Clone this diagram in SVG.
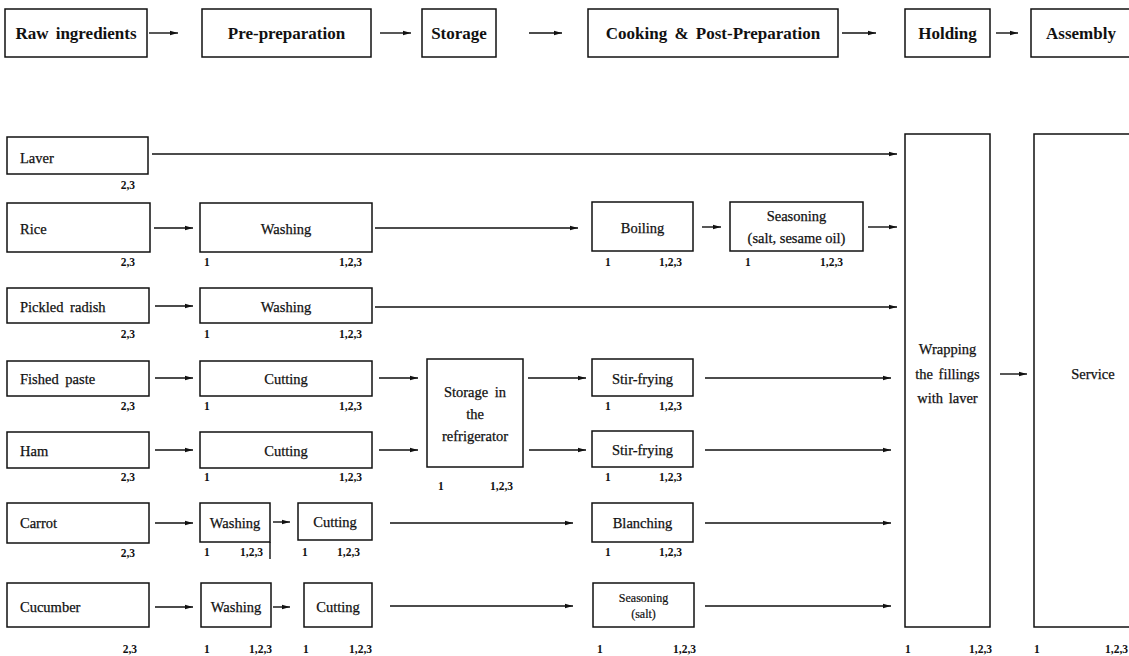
<svg xmlns="http://www.w3.org/2000/svg" width="1129" height="656" viewBox="0 0 1129 656">
<defs>
<marker id="ah" markerWidth="8" markerHeight="6" refX="8" refY="3" orient="auto" markerUnits="userSpaceOnUse">
<path d="M0,0.8 L8,3 L0,5.2 Z" fill="#111"/>
</marker>
<style>
rect{fill:#fff;stroke:#111;stroke-width:1.5}
text{font-family:"Liberation Serif","DejaVu Serif",serif;fill:#111}
.h{font-size:17px;font-weight:bold;text-anchor:middle;word-spacing:3px}
.t{font-size:14.5px;stroke:#111;stroke-width:0.25}
.c{text-anchor:middle}
.s{font-size:12px;stroke:#111;stroke-width:0.2}
.n{font-size:11.5px;font-weight:bold}
.e{text-anchor:end}
#connectors line{stroke:#111;stroke-width:1.4;marker-end:url(#ah)}
</style>
</defs>
<rect x="0" y="0" width="1129" height="656" style="fill:#fff;stroke:none"/>

<g id="h-raw"><rect x="5" y="9" width="142" height="48"/><text class="h" x="76" y="39">Raw ingredients</text></g>
<g id="h-prep"><rect x="202" y="9" width="169" height="48"/><text class="h" x="286.5" y="39">Pre-preparation</text></g>
<g id="h-storage"><rect x="422" y="9" width="74" height="48"/><text class="h" x="459" y="39">Storage</text></g>
<g id="h-cooking"><rect x="588" y="9" width="250" height="48"/><text class="h" x="713" y="39">Cooking &amp; Post-Preparation</text></g>
<g id="h-holding"><rect x="905" y="9" width="85" height="48"/><text class="h" x="947.5" y="39">Holding</text></g>
<g id="h-assembly"><rect x="1031" y="9" width="110" height="48"/><text class="h" x="1081" y="39">Assembly</text></g>

<g id="laver"><rect x="7" y="137" width="141" height="37"/><text class="t" x="20" y="163">Laver</text><text class="n e" x="135" y="189">2,3</text></g>

<g id="rice"><rect x="7" y="203" width="143" height="49"/><text class="t" x="20" y="234">Rice</text><text class="n e" x="135" y="266">2,3</text></g>
<g id="rice-wash"><rect x="200" y="203" width="172" height="49"/><text class="t c" x="286" y="234">Washing</text><text class="n" x="204" y="266">1</text><text class="n e" x="362" y="266">1,2,3</text></g>
<g id="rice-boil"><rect x="592" y="202" width="101" height="49"/><text class="t c" x="642.5" y="233">Boiling</text><text class="n" x="605" y="266">1</text><text class="n e" x="682" y="266">1,2,3</text></g>
<g id="rice-season"><rect x="730" y="202" width="133" height="49"/><text class="t c" x="796.5" y="221">Seasoning</text><text class="t c" x="796.5" y="243">(salt, sesame oil)</text><text class="n" x="745" y="266">1</text><text class="n e" x="843" y="266">1,2,3</text></g>

<g id="radish"><rect x="7" y="288" width="142" height="35"/><text class="t" x="20" y="312" word-spacing="3">Pickled radish</text><text class="n e" x="135" y="338">2,3</text></g>
<g id="radish-wash"><rect x="200" y="288" width="172" height="35"/><text class="t c" x="286" y="312">Washing</text><text class="n" x="204" y="338">1</text><text class="n e" x="362" y="338">1,2,3</text></g>

<g id="fish"><rect x="7" y="361" width="142" height="35"/><text class="t" x="20" y="384" word-spacing="3">Fished paste</text><text class="n e" x="135" y="410">2,3</text></g>
<g id="fish-cut"><rect x="200" y="361" width="172" height="35"/><text class="t c" x="286" y="384">Cutting</text><text class="n" x="204" y="410">1</text><text class="n e" x="362" y="410">1,2,3</text></g>
<g id="fridge"><rect x="427" y="359" width="96" height="108"/><text class="t c" x="475" y="397" word-spacing="3">Storage in</text><text class="t c" x="475" y="419">the</text><text class="t c" x="475" y="441">refrigerator</text><text class="n" x="438" y="490">1</text><text class="n e" x="513" y="490">1,2,3</text></g>
<g id="fish-fry"><rect x="592" y="359" width="101" height="37"/><text class="t c" x="642.5" y="384">Stir-frying</text><text class="n" x="605" y="410">1</text><text class="n e" x="682" y="410">1,2,3</text></g>

<g id="ham"><rect x="7" y="432" width="142" height="36"/><text class="t" x="20" y="456">Ham</text><text class="n e" x="135" y="481">2,3</text></g>
<g id="ham-cut"><rect x="200" y="432" width="172" height="36"/><text class="t c" x="286" y="456">Cutting</text><text class="n" x="204" y="481">1</text><text class="n e" x="362" y="481">1,2,3</text></g>
<g id="ham-fry"><rect x="592" y="431" width="101" height="36"/><text class="t c" x="642.5" y="455">Stir-frying</text><text class="n" x="605" y="481">1</text><text class="n e" x="682" y="481">1,2,3</text></g>

<g id="carrot"><rect x="7" y="503" width="142" height="40"/><text class="t" x="20" y="528">Carrot</text><text class="n e" x="135" y="557">2,3</text></g>
<g id="carrot-wash"><rect x="200" y="503" width="70" height="39"/><line x1="270" y1="542" x2="270" y2="559" stroke="#111" stroke-width="1.4"/><text class="t c" x="235" y="528">Washing</text><text class="n" x="204" y="556">1</text><text class="n e" x="263" y="556">1,2,3</text></g>
<g id="carrot-cut"><rect x="298" y="503" width="74" height="37"/><text class="t c" x="335" y="527">Cutting</text><text class="n" x="302" y="556">1</text><text class="n e" x="360" y="556">1,2,3</text></g>
<g id="carrot-blanch"><rect x="592" y="503" width="101" height="39"/><text class="t c" x="642.5" y="528">Blanching</text><text class="n" x="605" y="556">1</text><text class="n e" x="682" y="556">1,2,3</text></g>

<g id="cucumber"><rect x="7" y="583" width="142" height="44"/><text class="t" x="20" y="612">Cucumber</text><text class="n e" x="137" y="653">2,3</text></g>
<g id="cuc-wash"><rect x="201" y="583" width="70" height="44"/><text class="t c" x="236" y="612">Washing</text><text class="n" x="204" y="653">1</text><text class="n e" x="272" y="653">1,2,3</text></g>
<g id="cuc-cut"><rect x="304" y="583" width="68" height="44"/><text class="t c" x="338" y="612">Cutting</text><text class="n" x="303" y="653">1</text><text class="n e" x="372" y="653">1,2,3</text></g>
<g id="cuc-season"><rect x="593" y="583" width="101" height="44"/><text class="s c" x="643.5" y="602">Seasoning</text><text class="s c" x="643.5" y="618">(salt)</text><text class="n" x="597" y="653">1</text><text class="n e" x="696" y="653">1,2,3</text></g>

<g id="wrap"><rect x="905" y="134" width="85" height="493"/><text class="t c" x="947.5" y="354">Wrapping</text><text class="t c" x="947.5" y="379" word-spacing="2">the fillings</text><text class="t c" x="947.5" y="403" word-spacing="2">with laver</text><text class="n" x="905" y="653">1</text><text class="n e" x="992" y="653">1,2,3</text></g>
<g id="service"><rect x="1034" y="134" width="110" height="493"/><text class="t c" x="1093" y="379">Service</text><text class="n" x="1034" y="653">1</text><text class="n e" x="1128" y="653">1,2,3</text></g>

<g id="connectors">
<line x1="149" y1="33" x2="178" y2="33"/>
<line x1="380" y1="33" x2="411" y2="33"/>
<line x1="529" y1="33" x2="562" y2="33"/>
<line x1="842" y1="33" x2="876" y2="33"/>
<line x1="996" y1="33" x2="1018" y2="33"/>

<line x1="152" y1="154" x2="897" y2="154"/>

<line x1="154" y1="228" x2="193" y2="228"/>
<line x1="375" y1="228" x2="578" y2="228"/>
<line x1="702" y1="227" x2="721" y2="227"/>
<line x1="868" y1="227" x2="897" y2="227"/>

<line x1="155" y1="306" x2="193" y2="306"/>
<line x1="375" y1="307" x2="897" y2="307"/>

<line x1="155" y1="378" x2="193" y2="378"/>
<line x1="379" y1="378" x2="418" y2="378"/>
<line x1="528" y1="378" x2="586" y2="378"/>
<line x1="705" y1="378" x2="891" y2="378"/>

<line x1="155" y1="450" x2="193" y2="450"/>
<line x1="379" y1="450" x2="418" y2="450"/>
<line x1="529" y1="450" x2="586" y2="450"/>
<line x1="705" y1="450" x2="891" y2="450"/>

<line x1="155" y1="523" x2="193" y2="523"/>
<line x1="273" y1="522" x2="290" y2="522"/>
<line x1="390" y1="523" x2="573" y2="523"/>
<line x1="705" y1="523" x2="891" y2="523"/>

<line x1="155" y1="607" x2="193" y2="607"/>
<line x1="273" y1="607" x2="290" y2="607"/>
<line x1="390" y1="606" x2="573" y2="606"/>
<line x1="705" y1="606" x2="891" y2="606"/>

<line x1="1000" y1="374" x2="1027" y2="374"/>
</g>
</svg>
